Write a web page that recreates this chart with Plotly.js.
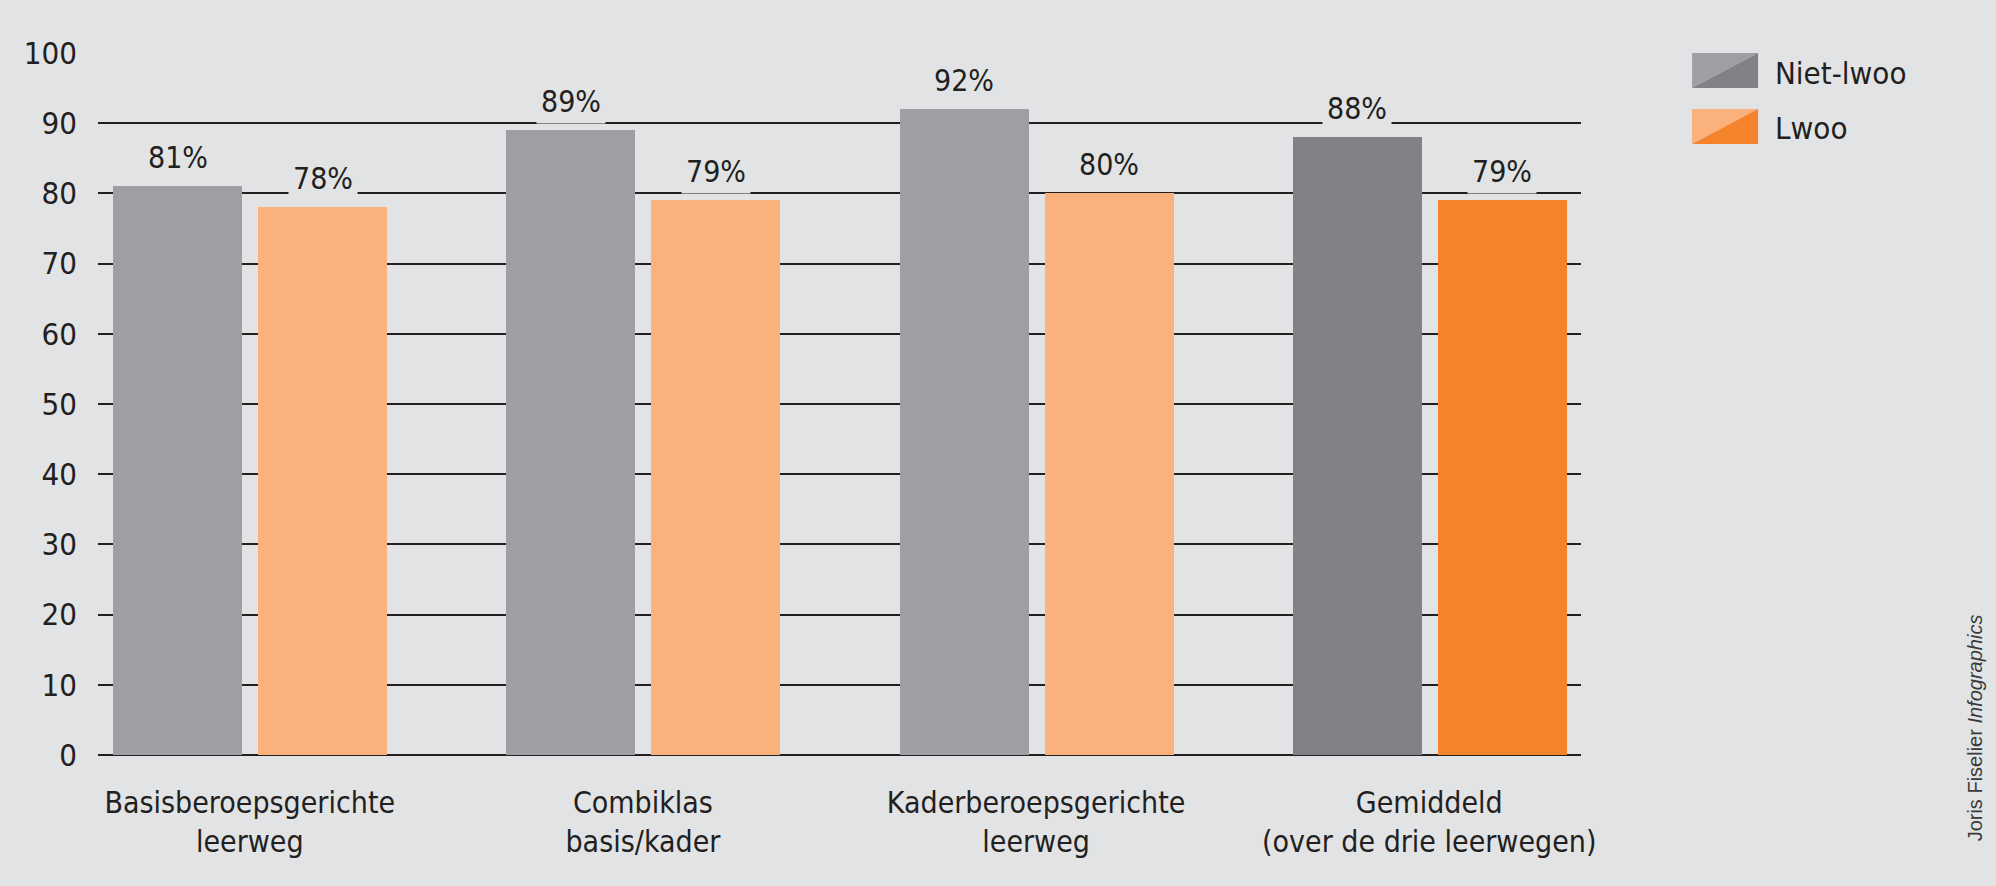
<!DOCTYPE html>
<html><head><meta charset="utf-8">
<script src="https://cdn.plot.ly/plotly-3.0.1.min.js"></script>
<style>html,body{margin:0;padding:0;background:#e2e3e5;}#chart{width:1996px;height:886px;}</style>
</head><body><div id="chart"></div>
<script>
const categories = ["Basisberoepsgerichte<br>leerweg", "Combiklas<br>basis/kader", "Kaderberoepsgerichte<br>leerweg", "Gemiddeld<br>(over de drie leerwegen)"];
const nietLwoo = [81, 89, 92, 88];
const lwoo = [78, 79, 80, 79];
const nietColors = ["#9e9fa2", "#9e9fa2", "#9e9fa2", "#818285"];
const lwooColors = ["#fbb17b", "#fbb17b", "#fbb17b", "#f5832c"];
const yTicks = [0,10,20,30,40,50,60,70,80,90,100];
const seriesNames = ["Niet-lwoo", "Lwoo"];

const FONT = '"Liberation Sans Narrow", "DejaVu Sans Condensed", "Arial Narrow", sans-serif';
const BG = '#e2e3e5';
const xs = categories.map((c,i)=>i);
const W = 0.328, OFF1 = -0.347, OFF2 = 0.0216;

const traces = [
  {type:'bar', name:seriesNames[0], x:xs, y:nietLwoo, width:W, offset:OFF1, marker:{color:nietColors}, hoverinfo:'skip'},
  {type:'bar', name:seriesNames[1], x:xs, y:lwoo, width:W, offset:OFF2, marker:{color:lwooColors}, hoverinfo:'skip'}
];

const annotations = [];
function addLabels(vals, off){
  vals.forEach((v,i)=>{
    annotations.push({x:i+off+W/2, y:v, xref:'x', yref:'y', text:v+'%', showarrow:false,
      yanchor:'bottom', yshift:6, bgcolor:BG, borderpad:4,
      font:{family:FONT, size:30, color:'#231f20'}});
  });
}
addLabels(nietLwoo, OFF1);
addLabels(lwoo, OFF2);

// legend text
annotations.push({x:1.1295, y:0.9715, xref:'paper', yref:'paper', xanchor:'left', yanchor:'middle', text:seriesNames[0], showarrow:false, font:{family:FONT, size:31, color:'#231f20'}});
annotations.push({x:1.1295, y:0.8932, xref:'paper', yref:'paper', xanchor:'left', yanchor:'middle', text:seriesNames[1], showarrow:false, font:{family:FONT, size:31, color:'#231f20'}});
// credit
annotations.push({x:1.2657, y:0.038, xref:'paper', yref:'paper', xanchor:'center', yanchor:'middle', textangle:-90,
  text:'Joris Fiselier <i>Infographics</i>', showarrow:false, font:{family:'"Liberation Sans", Arial, sans-serif', size:20, color:'#3a3a3a'}});

function sw(x0,x1,y0,y1,light,dark){
  return [
    {type:'path', xref:'paper', yref:'paper', path:`M${x0},${y1} L${x1},${y1} L${x0},${y0} Z`, fillcolor:light, line:{width:0}},
    {type:'path', xref:'paper', yref:'paper', path:`M${x1},${y1} L${x1},${y0} L${x0},${y0} Z`, fillcolor:dark, line:{width:0}}
  ];
}
const shapes = [].concat(
  sw(1.0749, 1.1194, 0.9501, 1.0, nietColors[0], nietColors[3]),
  sw(1.0749, 1.1194, 0.8704, 0.9202, lwooColors[0], lwooColors[3])
);

const layout = {
  width:1996, height:886,
  margin:{l:98, r:415, t:53, b:131},
  paper_bgcolor:BG, plot_bgcolor:BG,
  showlegend:false,
  xaxis:{range:[-0.386, 3.386], tickvals:xs, ticktext:categories, showgrid:false, zeroline:false, showline:false,
    ticks:'', tickfont:{family:FONT, size:30, color:'#231f20'}, ticklabelstandoff:27, fixedrange:true},
  yaxis:{range:[0,100], tickvals:yTicks, showgrid:true, gridcolor:'#231f20', gridwidth:2,
    zeroline:true, zerolinecolor:'#231f20', zerolinewidth:2, showline:false, ticks:'',
    tickfont:{family:FONT, size:31, color:'#231f20'}, ticklabelstandoff:20, fixedrange:true},
  annotations:annotations, shapes:shapes,
  bargap:0
};
Plotly.newPlot('chart', traces, layout, {displayModeBar:false, staticPlot:true});
</script></body></html>
